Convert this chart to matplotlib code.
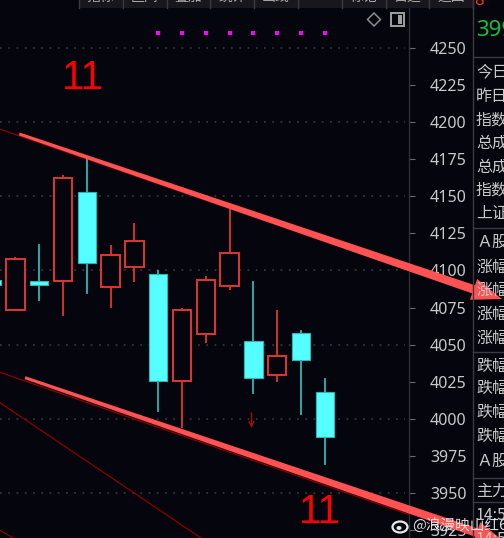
import matplotlib
matplotlib.use("Agg")
import matplotlib.pyplot as plt
from matplotlib.patches import Rectangle, Polygon, Ellipse
from matplotlib.lines import Line2D
import numpy as np

# ---------------- data ----------------
opens  = [4093.5, 4073.0, 4093.0, 4093.0, 4153.0, 4089.0, 4102.5, 4097.5, 4025.5, 4057.0, 4089.5, 4052.5, 4029.5, 4058.0, 4018.0]
highs  = [4098.0, 4109.0, 4117.0, 4164.5, 4175.0, 4117.0, 4132.0, 4099.5, 4074.5, 4096.5, 4142.0, 4092.5, 4073.0, 4059.0, 4027.0]
lows   = [4086.0, 4073.0, 4080.0, 4069.5, 4084.5, 4074.5, 4092.5, 4005.5, 3993.5, 4051.0, 4086.5, 4017.5, 4025.0, 4003.0, 3969.5]
closes = [4090.5, 4108.0, 4090.0, 4162.5, 4105.0, 4110.5, 4120.0, 4025.5, 4073.0, 4093.5, 4112.0, 4027.5, 4042.5, 4039.5, 3988.0]

signal_idx = [7, 8, 9, 10, 11, 12, 13, 14]
signal_level = 4260.0

y_ticks = [3925, 3950, 3975, 4000, 4025, 4050, 4075, 4100, 4125, 4150, 4175, 4200, 4225, 4250]
grid_levels = [3950, 4000, 4050, 4100, 4150, 4200, 4250]

# trend annotations (bar index, price)
upper_arrow = [(1.16, 4192.0), (21.45, 4080.7)]
lower_arrow = [(1.40, 4027.7), (21.58, 3916.6)]
thin_lines = [
    [(0.349, 4195.2), (17.54, 4100.0)],
    [(0.349, 4031.3), (17.54, 3935.4)],
    [(0.349, 4010.8), (9.5, 3912.0)],
    [(0.349, 3924.8), (1.5, 3914.0)],
]
down_mark = (10.92, 4004.0, 3993.8)

panel_rows = [("今日", 72), ("昨日", 97), ("指数", 120), ("总成", 143),
              ("总成", 167), ("指数", 190), ("上证", 213), ("Ａ股", 242),
              ("涨幅", 267), ("涨幅", 290), ("涨幅", 314), ("涨幅", 338),
              ("跌幅", 366), ("跌幅", 389), ("跌幅", 413), ("跌幅", 437),
              ("Ａ股", 461), ("主力", 491), ("14:5", 516), ("14:5", 540)]
panel_lines = [57, 228, 352, 478, 502]
header_labels = ["指标", "区间", "叠加", "统计", "画线", "F10", "标记", "自选", "返回"]

# ---------------- style ----------------
W, H = 504, 538
BG = "#05050d"
CYAN = "#55ffff"
CYAN_EDGE = "#2fb5b5"
RED = "#e03535"
SALMON = "#ff5252"
DARKRED = "#8c0000"
GRID = "#3c3c44"
TXT = "#c8c8c8"

plt.rcParams['font.family'] = ['Noto Sans CJK SC', 'DejaVu Sans']

fig = plt.figure(figsize=(W / 100, H / 100), dpi=100, facecolor=BG)

def fx(x):
    return x / W

def fy(y):
    return 1 - y / H

ax_right, ax_top = 409, 7
ax = fig.add_axes([0, 0, ax_right / W, (H - ax_top) / H])
ax.set_facecolor(BG)

spacing = 23.79
offset = -8.3
ax.set_xlim((0 - offset) / spacing, (ax_right - offset) / spacing)
ax.set_ylim(3919.6, 4277.6)

for s in ["top", "left", "bottom"]:
    ax.spines[s].set_visible(False)
ax.spines["right"].set_color("#2e2e36")
ax.spines["right"].set_linewidth(1)

ax.set_xticks([])
ax.yaxis.tick_right()
ax.set_yticks(y_ticks)
ax.set_yticklabels([str(v) for v in y_ticks])
ax.tick_params(axis='y', direction='out', length=4.5, width=0.8, color="#6a6a6a",
               labelcolor=TXT, labelsize=11.5, pad=37)
for lab in ax.get_yticklabels():
    lab.set_horizontalalignment('right')
    lab.set_family(['Noto Sans', 'DejaVu Sans'])

for g in grid_levels:
    ax.axhline(g, color=GRID, lw=1.1, linestyle=(0, (1.2, 4.2)), xmax=0.99, zorder=1)

# candles
bw = 0.77
for i, (o, h, l, c) in enumerate(zip(opens, highs, lows, closes)):
    top, bot = max(o, c), min(o, c)
    if c >= o:
        ax.plot([i, i], [top, h], color=RED, lw=1.3, zorder=3, solid_capstyle='butt')
        ax.plot([i, i], [l, bot], color=RED, lw=1.3, zorder=3, solid_capstyle='butt')
        ax.add_patch(Rectangle((i - bw / 2, bot), bw, max(top - bot, 0.6),
                               facecolor=BG, edgecolor=RED, lw=1.4, zorder=4))
    else:
        ax.plot([i, i], [l, h], color=CYAN_EDGE, lw=1.3, zorder=3)
        ax.add_patch(Rectangle((i - bw / 2, bot), bw, max(top - bot, 0.6),
                               facecolor=CYAN, edgecolor=CYAN_EDGE, lw=0.8, zorder=4))

# signal dots
ax.scatter(signal_idx, [signal_level] * len(signal_idx), marker='s', s=9,
           color="#ff00ff", zorder=5, linewidths=0)

# thin dark red lines
for ln in thin_lines:
    xs, ys = zip(*ln)
    ax.plot(xs, ys, color=DARKRED, lw=0.9, zorder=2)

# down marker
ax.annotate('', xy=(down_mark[0], down_mark[2]), xytext=(down_mark[0], down_mark[1]),
            arrowprops=dict(arrowstyle='->', color="#a01010", lw=1.0,
                            shrinkA=0, shrinkB=0, mutation_scale=9), zorder=5)

# thick tapered arrows (drawn in display coordinates, beyond axes)
def tapered_arrow(p0, p1, w0=1.5, w1=4.3, hl=30, hw=11):
    a = ax.transData.transform(p0)
    b = ax.transData.transform(p1)
    d = b - a
    u = d / np.hypot(*d)
    n = np.array([-u[1], u[0]])
    base = b - u * hl
    verts = [a + n * w0, base + n * w1, base + n * hw, b,
             base - n * hw, base - n * w1, a - n * w0]
    frac = fig.transFigure.inverted().transform(np.array(verts))
    fig.add_artist(Polygon(frac, closed=True, facecolor=SALMON, edgecolor='none',
                           transform=fig.transFigure, zorder=6))

tapered_arrow(*upper_arrow)
tapered_arrow(*lower_arrow)

# big "11" labels
fig.text(fx(83), fy(78), "11", color="#ff0000", fontsize=29,
         family=['Liberation Sans', 'DejaVu Sans'], ha='center', va='center', zorder=7)
fig.text(fx(320), fy(512), "11", color="#ff0000", fontsize=29,
         family=['Liberation Sans', 'DejaVu Sans'], ha='center', va='center', zorder=7)

# header strip
fig.add_artist(Rectangle((fx(79), fy(7.5)), fx(473 - 79), 7.5 / H, facecolor="#17171d",
                         edgecolor='none', transform=fig.transFigure, zorder=8))
seps = [79 + k * 43.8 for k in range(10)]
for k, xs in enumerate(seps):
    fig.add_artist(Line2D([fx(xs), fx(xs)], [fy(0), fy(7.5)], color="#3a3a42", lw=1,
                          transform=fig.transFigure, zorder=9))
    if k < len(header_labels):
        fig.text(fx(xs + 21.9), fy(-3.5), header_labels[k], color="#a8a8a8", fontsize=10,
                 ha='center', va='center', zorder=9)

# top-right icons
fig.add_artist(Polygon([[fx(374), fy(13)], [fx(380.5), fy(19.5)], [fx(374), fy(26)], [fx(367.5), fy(19.5)]],
                       closed=True, fill=False, edgecolor="#8c8c8c", lw=1.1,
                       transform=fig.transFigure, zorder=9))
fig.add_artist(Rectangle((fx(391), fy(26)), fx(13), 13 / H, fill=False, edgecolor="#a0a0a0",
                         lw=1.4, transform=fig.transFigure, zorder=9))
fig.add_artist(Rectangle((fx(397.5), fy(23.5)), fx(4.5), 8 / H, facecolor="#a0a0a0",
                         edgecolor='none', transform=fig.transFigure, zorder=9))

# right info panel
fig.add_artist(Line2D([fx(472.5), fx(472.5)], [0, 1], color="#3a3a42", lw=1,
                      transform=fig.transFigure, zorder=9))
for yl in panel_lines:
    fig.add_artist(Line2D([fx(472.5), 1], [fy(yl), fy(yl)], color="#3a3a42", lw=1,
                          transform=fig.transFigure, zorder=9))
for label, yy in panel_rows:
    fig.text(fx(476), fy(yy), label, color=TXT, fontsize=11.5, ha='left', va='center', zorder=9)
fig.text(fx(474), fy(1), "8", color="#ff3030", fontsize=12, ha='left', va='center', zorder=9,
         family=['Noto Sans', 'DejaVu Sans'])
fig.text(fx(476), fy(31), "399", color="#10c040", fontsize=16, ha='left', va='center', zorder=9,
         family=['Noto Sans', 'DejaVu Sans'])

# watermark
fig.add_artist(Ellipse((fx(400), fy(527)), fx(15), 11 / H, fill=False, edgecolor="#e8e8e8",
                       lw=1.6, transform=fig.transFigure, zorder=10))
fig.add_artist(Ellipse((fx(399), fy(528)), fx(5), 4 / H, facecolor="#e8e8e8",
                       edgecolor='none', transform=fig.transFigure, zorder=10))
fig.text(fx(412), fy(525), "@浪漫映山红6", color="#f0f0f0", fontsize=10.5, ha='left',
         va='center', zorder=10, alpha=0.92)

fig.savefig("out.png", dpi=100, facecolor=BG)
